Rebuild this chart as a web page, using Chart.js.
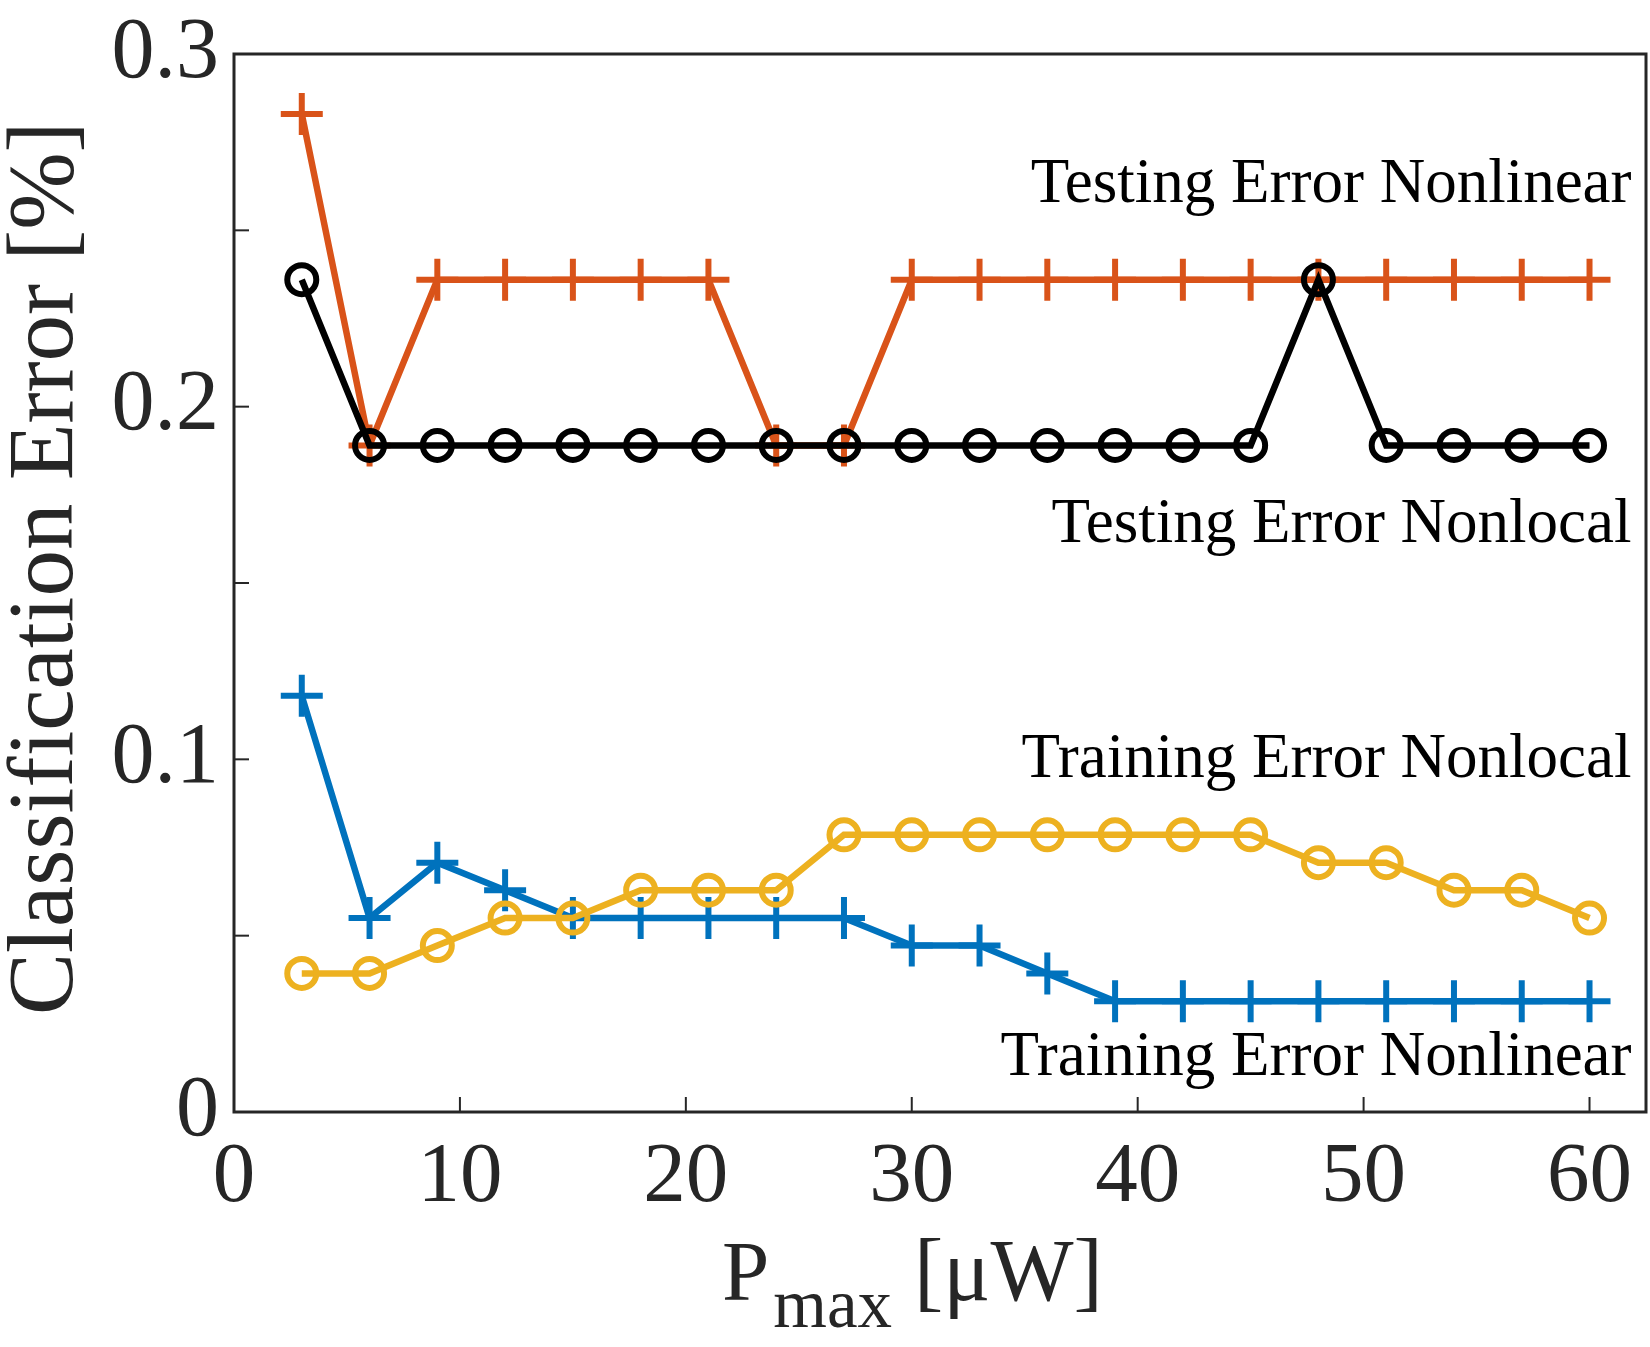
<!DOCTYPE html>
<html><head><meta charset="utf-8">
<script src="https://cdn.jsdelivr.net/npm/chart.js@4"></script>
<style>html,body{margin:0;padding:0;background:#fff}canvas{display:block}</style>
</head><body>
<canvas id="c" width="1650" height="1347" style="width:1650px;height:1347px"></canvas>
<script>
// ---- data ----
const powerMax = [3,6,9,12,15,18,21,24,27,30,33,36,39,42,45,48,51,54,57,60];
const trainingNonlinear = [0.118,0.055,0.0707,0.0629,0.055,0.055,0.055,0.055,0.055,0.0472,0.0472,0.0393,0.0314,0.0314,0.0314,0.0314,0.0314,0.0314,0.0314,0.0314];
const testingNonlinear  = [0.283,0.189,0.236,0.236,0.236,0.236,0.236,0.189,0.189,0.236,0.236,0.236,0.236,0.236,0.236,0.236,0.236,0.236,0.236,0.236];
const trainingNonlocal  = [0.0393,0.0393,0.0472,0.055,0.055,0.0629,0.0629,0.0629,0.0786,0.0786,0.0786,0.0786,0.0786,0.0786,0.0786,0.0707,0.0707,0.0629,0.0629,0.055];
const testingNonlocal   = [0.236,0.189,0.189,0.189,0.189,0.189,0.189,0.189,0.189,0.189,0.189,0.189,0.189,0.189,0.189,0.236,0.189,0.189,0.189,0.189];
const seriesNames = ['Training Error Nonlinear','Testing Error Nonlinear','Training Error Nonlocal','Testing Error Nonlocal'];
const xTickLabels = ['0','10','20','30','40','50','60'];
const yTickLabels = ['0','0.1','0.2','0.3'];
const xTitleMain = 'P', xTitleSub = 'max', xTitleUnit = '[\u03bcW]';
const yTitle = 'Classification Error [%]';

// ---- text labels placed in data coordinates ----
const notes = [
  {text:'Testing Error Nonlinear', x:61.86, y:0.2580},
  {text:'Testing Error Nonlocal',  x:61.86, y:0.1616},
  {text:'Training Error Nonlocal', x:61.86, y:0.0950},
  {text:'Training Error Nonlinear',x:61.86, y:0.0105}
];

const SERIF = '"Liberation Serif","Times New Roman",serif';
const AXIS = '#262626';

function pts(ys){ return powerMax.map((x,i)=>({x:x,y:ys[i]})); }

function ds(name, ys, color, style, radius, order){
  return {
    label:name, data:pts(ys), borderColor:color, borderWidth:6.5,
    pointStyle:style, pointRadius:radius, pointHoverRadius:radius,
    pointBorderColor:color, pointBackgroundColor:'rgba(0,0,0,0)',
    pointBorderWidth:6, tension:0, fill:false, order:order, clip:false
  };
}

function noPad(s){ s.paddingTop = 0; s.paddingBottom = 0; s.paddingLeft = 0; s.paddingRight = 0; }

const framePlugin = {
  id:'frame',
  beforeDatasetsDraw(chart){
    const {ctx, chartArea:a, scales:{x, y}} = chart;
    ctx.save();
    ctx.strokeStyle = AXIS;
    ctx.lineWidth = 2;
    y.ticks.forEach(t=>{
      const py = y.getPixelForValue(t.value);
      ctx.beginPath(); ctx.moveTo(a.left, py); ctx.lineTo(a.left+15, py); ctx.stroke();
    });
    x.ticks.forEach(t=>{
      const px = x.getPixelForValue(t.value);
      ctx.beginPath(); ctx.moveTo(px, a.bottom); ctx.lineTo(px, a.bottom-15); ctx.stroke();
    });
    ctx.lineWidth = 3;
    ctx.strokeRect(a.left, a.top, a.right-a.left, a.bottom-a.top);
    ctx.restore();
  },
  afterDraw(chart){
    const {ctx, chartArea:a, scales:{x, y}} = chart;
    ctx.save();
    // annotations
    ctx.fillStyle = '#000';
    ctx.font = '63px ' + SERIF;
    ctx.textAlign = 'right';
    ctx.textBaseline = 'alphabetic';
    notes.forEach(n=>{
      ctx.fillText(n.text, x.getPixelForValue(n.x), y.getPixelForValue(n.y));
    });
    // y title
    ctx.fillStyle = AXIS;
    ctx.font = '93px ' + SERIF;
    ctx.textAlign = 'center';
    ctx.translate(a.left - 162, a.top + 0.486*(a.bottom-a.top));
    ctx.rotate(-Math.PI/2);
    ctx.fillText(yTitle, 0, 0);
    ctx.setTransform(1,0,0,1,0,0);
    // x title with subscript
    ctx.textAlign = 'left';
    const base = a.bottom + 188;
    let px = a.left + 0.3456*(a.right-a.left);
    ctx.font = '85px ' + SERIF;
    ctx.fillText(xTitleMain, px, base);
    px += ctx.measureText(xTitleMain).width + 4;
    ctx.font = '69px ' + SERIF;
    ctx.fillText(xTitleSub, px, base + 27);
    px += ctx.measureText(xTitleSub).width + 22;
    ctx.font = '88px ' + SERIF;
    ctx.fillText(xTitleUnit, px, base);
    ctx.restore();
  }
};

new Chart(document.getElementById('c'), {
  type:'line',
  data:{ datasets:[
    ds(seriesNames[0], trainingNonlinear, '#0072BD', 'cross', 21, 4),
    ds(seriesNames[1], testingNonlinear,  '#D95319', 'cross', 21, 3),
    ds(seriesNames[2], trainingNonlocal,  '#EDB120', 'circle', 14.5, 2),
    ds(seriesNames[3], testingNonlocal,   '#000000', 'circle', 14.5, 1)
  ]},
  options:{
    responsive:false, animation:false, devicePixelRatio:1,
    layout:{autoPadding:false, padding:{top:54, right:4, left:0, bottom:0}},
    plugins:{legend:{display:false}, tooltip:{enabled:false}},
    events:[],
    scales:{
      x:{
        type:'linear', min:0, max:62.5,
        grid:{display:false, drawTicks:false}, border:{display:false},
        ticks:{stepSize:10, includeBounds:false, padding:16, color:AXIS, maxRotation:0,
          font:{family:SERIF, size:85},
          callback:(v)=>{ const k = Math.round(v/10); return Math.abs(v-k*10)<1e-6 ? xTickLabels[k] : ''; }},
        afterFit:(s)=>{ s.height = 235; noPad(s); }
      },
      y:{
        type:'linear', min:0, max:0.3,
        grid:{display:false, drawTicks:false}, border:{display:false},
        ticks:{stepSize:0.05, includeBounds:false, padding:15, color:AXIS,
          font:{family:SERIF, size:86},
          callback:(v)=>{ const k = Math.round(v*10); return Math.abs(v*10-k)<1e-6 ? yTickLabels[k] : ''; }},
        afterFit:(s)=>{ s.width = 234; noPad(s); }
      }
    }
  },
  plugins:[framePlugin]
});
</script>
</body></html>
